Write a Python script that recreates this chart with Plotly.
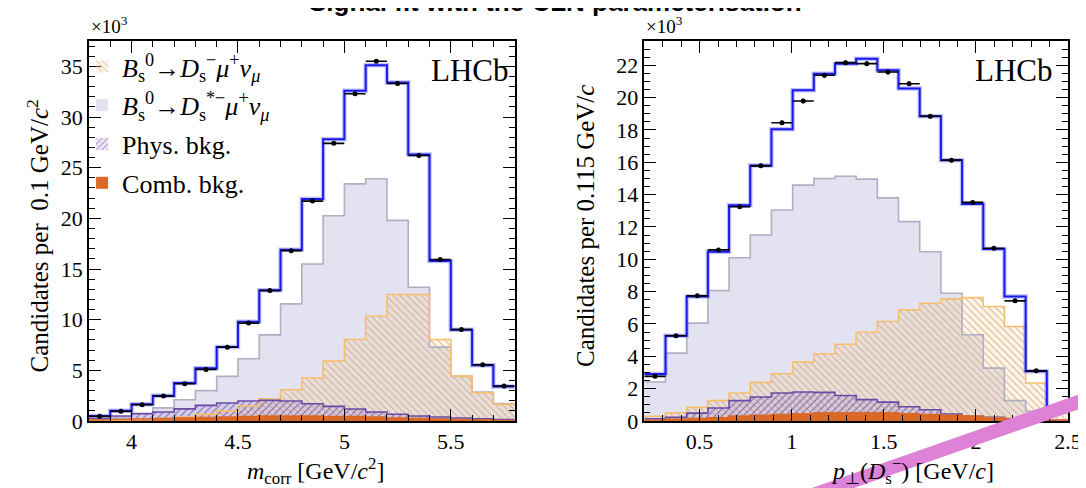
import numpy as np
import plotly.graph_objects as go

# ---------------- data (values in units of 10^3 candidates) ----------------
mcorr_lo, mcorr_w = 3.8, 0.1          # m_corr binning [GeV/c^2]
pperp_lo, pperp_w = 0.2, 0.115        # p_perp binning [GeV/c]
nbins = 20

data_l = [0.46, 0.95, 1.61, 2.46, 3.68, 5.09, 7.29, 9.66, 12.87, 16.81,
          21.7, 27.4, 32.3, 35.5, 33.3, 26.2, 15.93, 9.03, 5.55, 3.45]
fit_l = [0.50, 1.00, 1.65, 2.50, 3.75, 5.20, 7.30, 9.80, 12.90, 16.90,
         21.9, 27.8, 32.6, 35.1, 33.4, 26.3, 15.80, 9.00, 5.50, 3.40]
dsstar_l = [0.15, 0.30, 0.75, 1.30, 2.10, 3.00, 4.40, 6.14, 8.50, 11.56,
            15.5, 20.26, 23.4, 23.9, 19.8, 13.2, 7.29, 4.40, 2.86, 1.71]
ds_l = [0.05, 0.08, 0.15, 0.25, 0.40, 0.65, 1.00, 1.50, 2.20, 3.09,
        4.24, 5.91, 8.05, 10.34, 12.48, 12.48, 8.05, 4.43, 2.79, 1.64]
phys_l = [0.25, 0.50, 0.72, 0.89, 1.20, 1.54, 1.77, 1.97, 2.04, 1.97,
          1.70, 1.44, 1.18, 0.89, 0.66, 0.49, 0.39, 0.30, 0.22, 0.15]
comb_l = [0.10, 0.15, 0.20, 0.25, 0.30, 0.35, 0.40, 0.45, 0.50, 0.50,
          0.50, 0.45, 0.45, 0.40, 0.30, 0.25, 0.20, 0.15, 0.10, 0.05]

data_r = [2.76, 5.27, 7.74, 10.58, 13.25, 15.78, 18.44, 19.79, 21.38, 22.16,
          22.10, 21.58, 20.86, 18.85, 16.13, 13.52, 10.68, 7.43, 3.10, 0.80]
fit_r = [2.90, 5.27, 7.70, 10.47, 13.35, 15.80, 18.05, 20.45, 21.48, 22.10,
         22.40, 21.69, 20.56, 18.85, 16.13, 13.42, 10.64, 7.70, 3.07, 0.84]
dsstar_r = [2.41, 4.20, 6.05, 8.07, 10.10, 11.50, 13.05, 14.59, 15.00, 15.14,
            14.96, 13.80, 12.33, 10.47, 7.90, 5.33, 3.27, 1.26, 0.60, 0.05]
ds_r = [0.29, 0.50, 0.84, 1.26, 1.73, 2.39, 2.92, 3.64, 4.16, 4.75,
        5.49, 6.15, 6.87, 7.28, 7.55, 7.63, 7.08, 5.84, 2.35, 0.64]
phys_r = [0.14, 0.23, 0.49, 0.80, 1.26, 1.48, 1.73, 1.79, 1.77, 1.58,
          1.32, 1.17, 0.88, 0.70, 0.43, 0.29, 0.23, 0.14, 0.10, 0.05]
comb_r = [0.05, 0.10, 0.15, 0.20, 0.30, 0.35, 0.40, 0.45, 0.50, 0.50,
          0.50, 0.50, 0.45, 0.40, 0.35, 0.30, 0.20, 0.15, 0.10, 0.05]

leg_ds = "<i>B</i><sub>s</sub><sup>0</sup>→<i>D</i><sub>s</sub><sup>−</sup><i>μ</i><sup>+</sup><i>ν</i><sub><i>μ</i></sub>"
leg_dsstar = "<i>B</i><sub>s</sub><sup>0</sup>→<i>D</i><sub>s</sub><sup>*−</sup><i>μ</i><sup>+</sup><i>ν</i><sub><i>μ</i></sub>"
leg_phys = "Phys. bkg."
leg_comb = "Comb. bkg."

# ---------------- styling ----------------
SERIF = "Liberation Serif"
C_LAV = "rgb(226,226,240)"
C_LAV_LINE = "rgb(175,175,195)"
C_DS_LINE = "rgb(246,190,110)"
C_PHYS_LINE = "rgb(105,75,165)"
C_COMB = "rgb(218,105,40)"
C_FIT = "rgb(25,25,235)"

fig = go.Figure()


def add_panel(xa, ya, lo, w, data, fit, dsstar, ds, phys, comb, legend):
    edges = lo + w * np.arange(nbins + 1)
    centers = edges[:-1] + w / 2
    step_x = edges

    def stepy(v):
        return list(v) + [v[-1]]

    comps = [
        (leg_dsstar, dsstar, dict(color=C_LAV), C_LAV_LINE, 2),
        (leg_ds, ds, dict(color="rgba(250,215,160,0.25)",
                          pattern=dict(shape="\\", fgcolor="rgba(205,160,120,0.85)",
                                       bgcolor="rgba(250,215,160,0.25)", size=5,
                                       solidity=0.18, fillmode="replace")), C_DS_LINE, 1),
        (leg_phys, phys, dict(color="rgba(150,120,200,0.2)",
                              pattern=dict(shape="/", fgcolor="rgba(110,80,170,0.85)",
                                           bgcolor="rgba(150,120,200,0.2)", size=5,
                                           solidity=0.2, fillmode="replace")), C_PHYS_LINE, 3),
        (leg_comb, comb, dict(color=C_COMB), C_COMB, 4),
    ]
    for name, vals, marker, lc, rank in comps:
        m = dict(marker)
        m["line"] = dict(width=0)
        fig.add_trace(go.Bar(x=centers, y=vals, width=w, marker=m, name=name,
                             xaxis=xa, yaxis=ya, showlegend=legend, legendrank=rank,
                             legendgroup=name, hoverinfo="skip"))
    for name, vals, marker, lc, rank in comps:
        fig.add_trace(go.Scatter(x=step_x, y=stepy(vals), mode="lines", line_shape="hv",
                                 line=dict(color=lc, width=1.6), xaxis=xa, yaxis=ya,
                                 showlegend=False, hoverinfo="skip"))
    # total fit with a light uncertainty band look
    fig.add_trace(go.Scatter(x=step_x, y=stepy(fit), mode="lines", line_shape="hv",
                             line=dict(color="rgba(90,90,255,0.38)", width=4.5),
                             xaxis=xa, yaxis=ya, showlegend=False, hoverinfo="skip"))
    fig.add_trace(go.Scatter(x=step_x, y=stepy(fit), mode="lines", line_shape="hv",
                             line=dict(color=C_FIT, width=2),
                             xaxis=xa, yaxis=ya, showlegend=False, hoverinfo="skip"))
    # data
    err_y = [np.sqrt(v * 1000.0) / 1000.0 for v in data]
    fig.add_trace(go.Scatter(x=centers, y=data, mode="markers",
                             marker=dict(color="black", size=5),
                             error_x=dict(type="constant", value=w / 2, color="black",
                                          thickness=1.6, width=0),
                             error_y=dict(type="data", array=err_y, color="black",
                                          thickness=1.6, width=0),
                             xaxis=xa, yaxis=ya, showlegend=False, hoverinfo="skip"))


add_panel("x", "y", mcorr_lo, mcorr_w, data_l, fit_l, dsstar_l, ds_l, phys_l, comb_l, True)
add_panel("x2", "y2", pperp_lo, pperp_w, data_r, fit_r, dsstar_r, ds_r, phys_r, comb_r, False)

W, H = 1086, 488
L, R, T, B = 81, 16, 33, 75
pw, ph = W - L - R, H - T - B


def px(x):
    return (x - L) / pw


def py(y):
    return (H - B - y) / ph


axis_common = dict(showline=True, linecolor="black", linewidth=1.6, mirror="allticks",
                   ticks="inside", ticklen=12, tickwidth=1.4, tickcolor="black",
                   showgrid=False, zeroline=False,
                   tickfont=dict(family=SERIF, size=22, color="black"))

fig.update_layout(
    width=W, height=H,
    margin=dict(l=L, r=R, t=T, b=B),
    paper_bgcolor="white", plot_bgcolor="white",
    barmode="overlay", bargap=0,
    xaxis=dict(domain=[0, px(511)], range=[3.8, 5.8], tickvals=[4, 4.5, 5, 5.5],
               ticktext=["4", "4.5", "5", "5.5"],
               minor=dict(ticks="inside", ticklen=6, dtick=0.1, tick0=3.8, tickcolor="black",
                          tickwidth=1.2, showgrid=False),
               anchor="y", **axis_common),
    yaxis=dict(domain=[0, 1], range=[0, 37.5], tickvals=[0, 5, 10, 15, 20, 25, 30, 35],
               minor=dict(ticks="inside", ticklen=6, dtick=1, tick0=0, tickcolor="black",
                          tickwidth=1.2, showgrid=False),
               anchor="x", **axis_common),
    xaxis2=dict(domain=[px(642), 1], range=[0.2, 2.5], tickvals=[0.5, 1, 1.5, 2, 2.5],
                ticktext=["0.5", "1", "1.5", "2", "2.5"],
                minor=dict(ticks="inside", ticklen=6, dtick=0.1, tick0=0.2, tickcolor="black",
                           tickwidth=1.2, showgrid=False),
                anchor="y2", **axis_common),
    yaxis2=dict(domain=[0, 1], range=[0, 23.5], tickvals=list(range(0, 23, 2)),
                minor=dict(ticks="inside", ticklen=6, dtick=0.5, tick0=0, tickcolor="black",
                           tickwidth=1.2, showgrid=False),
                anchor="x2", **axis_common),
    legend=dict(x=px(74), y=py(35), xanchor="left", yanchor="top",
                font=dict(family=SERIF, size=26, color="black"),
                bgcolor="rgba(0,0,0,0)", tracegroupgap=2, traceorder="grouped",
                itemwidth=30),
    showlegend=True,
)

ann = [
    dict(text="<b>Signal fit with the CLN parameterisation</b>", x=px(552), y=py(-6),
         font=dict(family="Liberation Sans", size=26, color="black")),
    dict(text="×10<sup>3</sup>", x=px(102), y=py(17), font=dict(family=SERIF, size=19)),
    dict(text="×10<sup>3</sup>", x=px(662), y=py(17), font=dict(family=SERIF, size=19)),
    dict(text="LHCb", x=px(507), y=py(62), xanchor="right", font=dict(family=SERIF, size=31)),
    dict(text="LHCb", x=px(1057), y=py(62), xanchor="right", font=dict(family=SERIF, size=31)),
    dict(text="<i>m</i><sub>corr</sub> [GeV/<i>c</i><sup>2</sup>]", x=px(310), y=py(463),
         font=dict(family=SERIF, size=24)),
    dict(text="<i>p</i><sub>⊥</sub>(<i>D</i><sub>s</sub><sup>−</sup>) [GeV/<i>c</i>]", x=px(913),
         y=py(463), font=dict(family=SERIF, size=24)),
    dict(text="Candidates per  0.1 GeV/<i>c</i><sup>2</sup>", x=px(29), y=py(228), textangle=-90,
         font=dict(family=SERIF, size=25)),
    dict(text="Candidates per 0.115 GeV/<i>c</i>", x=px(583), y=py(218), textangle=-90,
         font=dict(family=SERIF, size=25)),
]
for a in ann:
    a.setdefault("xanchor", "center")
    a.setdefault("yanchor", "middle")
    a.update(xref="paper", yref="paper", showarrow=False)
    a["font"].setdefault("color", "black")
fig.update_layout(annotations=ann)

fig.add_shape(type="line", xref="paper", yref="paper",
              x0=px(795), y0=py(493), x1=px(1095), y1=py(389),
              line=dict(color="rgb(222,130,215)", width=14), layer="above")

fig.write_html("out.html")
